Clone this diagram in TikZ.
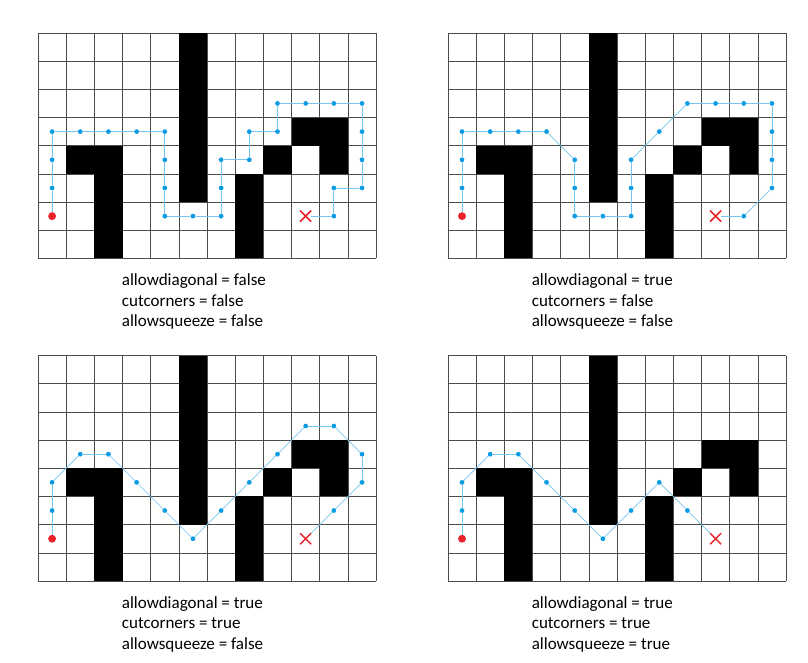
\documentclass[tikz,border=0pt]{standalone}
\usepackage{fontspec}
\setmainfont{Carlito}
\usetikzlibrary{shapes.misc}

\newcommand{\mazeboard}{%
	\draw[gridline] (0,0) grid (12,8);
	\fill (5,0) rectangle (6,6);
	\fill (1,4) rectangle (3,5);
	\fill (2,4) rectangle (3,8);
	\fill (7,5) rectangle (8,8);
	\fill (8,4) rectangle (9,5);
	\fill (9,3) rectangle (11,4);
	\fill (10,3) rectangle (11,5);
}

\begin{document}
\begin{tikzpicture}[x=1cm,y=-1cm]
	\definecolor{dotblue}{HTML}{0A9BE2}
	\definecolor{linkblue}{HTML}{74C7F2}
	\definecolor{markred}{HTML}{E8212B}
	\tikzset{
		gridline/.style={black!70,line width=0.6pt},
		waypoint/.style={circle,fill=dotblue,inner sep=0pt,minimum size=0.17cm},
		startdot/.style={circle,fill=markred,inner sep=0pt,minimum size=0.28cm},
		goalmark/.style={cross out,draw=markred,line width=1.5pt,inner sep=0pt,minimum size=0.34cm},
		link/.style={linkblue,line width=0.7pt},
		caption/.style={anchor=base west,align=left,inner sep=0pt,font=\fontsize{17.2}{20.7}\selectfont}
	}
	\useasboundingbox (-1.349,-1.171) rectangle (27.33,22.33);

	\begin{scope}
		\mazeboard
		\node[startdot] (a0) at (0.5,6.5) {};
		\node[goalmark] (ag) at (9.5,6.5) {};
		\foreach \c/\r [count=\i, remember=\i as \j (initially 0)] in {0/5,0/4,0/3,1/3,2/3,3/3,4/3,4/4,4/5,4/6,5/6,6/6,6/5,6/4,7/4,7/3,8/3,8/2,9/2,10/2,11/2,11/3,11/4,11/5,10/5,10/6} {
			\node[waypoint] (a\i) at (\c+0.5,\r+0.5) {};
			\draw[link] (a\j) -- (a\i);
		}
		\draw[link] (a26) -- (ag);
		\node[caption] (acap) at (2.97,10.43) {allowdiagonal = false\\cutcorners = false\\allowsqueeze = false};
	\end{scope}

	\begin{scope}[xshift=14.55cm]
		\mazeboard
		\node[startdot] (b0) at (0.5,6.5) {};
		\node[goalmark] (bg) at (9.5,6.5) {};
		\foreach \c/\r [count=\i, remember=\i as \j (initially 0)] in {0/5,0/4,0/3,1/3,2/3,3/3,4/4,4/5,4/6,5/6,6/6,6/5,6/4,7/3,8/2,9/2,10/2,11/2,11/3,11/4,11/5,10/6} {
			\node[waypoint] (b\i) at (\c+0.5,\r+0.5) {};
			\draw[link] (b\j) -- (b\i);
		}
		\draw[link] (b22) -- (bg);
		\node[caption] (bcap) at (2.97,10.43) {allowdiagonal = true\\cutcorners = false\\allowsqueeze = false};
	\end{scope}

	\begin{scope}[yshift=-11.45cm]
		\mazeboard
		\node[startdot] (c0) at (0.5,6.5) {};
		\node[goalmark] (cg) at (9.5,6.5) {};
		\foreach \c/\r [count=\i, remember=\i as \j (initially 0)] in {0/5,0/4,1/3,2/3,3/4,4/5,5/6,6/5,7/4,8/3,9/2,10/2,11/3,11/4,10/5} {
			\node[waypoint] (c\i) at (\c+0.5,\r+0.5) {};
			\draw[link] (c\j) -- (c\i);
		}
		\draw[link] (c15) -- (cg);
		\node[caption] (ccap) at (2.97,10.43) {allowdiagonal = true\\cutcorners = true\\allowsqueeze = false};
	\end{scope}

	\begin{scope}[xshift=14.55cm,yshift=-11.45cm]
		\mazeboard
		\node[startdot] (d0) at (0.5,6.5) {};
		\node[goalmark] (dg) at (9.5,6.5) {};
		\foreach \c/\r [count=\i, remember=\i as \j (initially 0)] in {0/5,0/4,1/3,2/3,3/4,4/5,5/6,6/5,7/4,8/5} {
			\node[waypoint] (d\i) at (\c+0.5,\r+0.5) {};
			\draw[link] (d\j) -- (d\i);
		}
		\draw[link] (d10) -- (dg);
		\node[caption] (dcap) at (2.97,10.43) {allowdiagonal = true\\cutcorners = true\\allowsqueeze = true};
	\end{scope}
\end{tikzpicture}
\end{document}
